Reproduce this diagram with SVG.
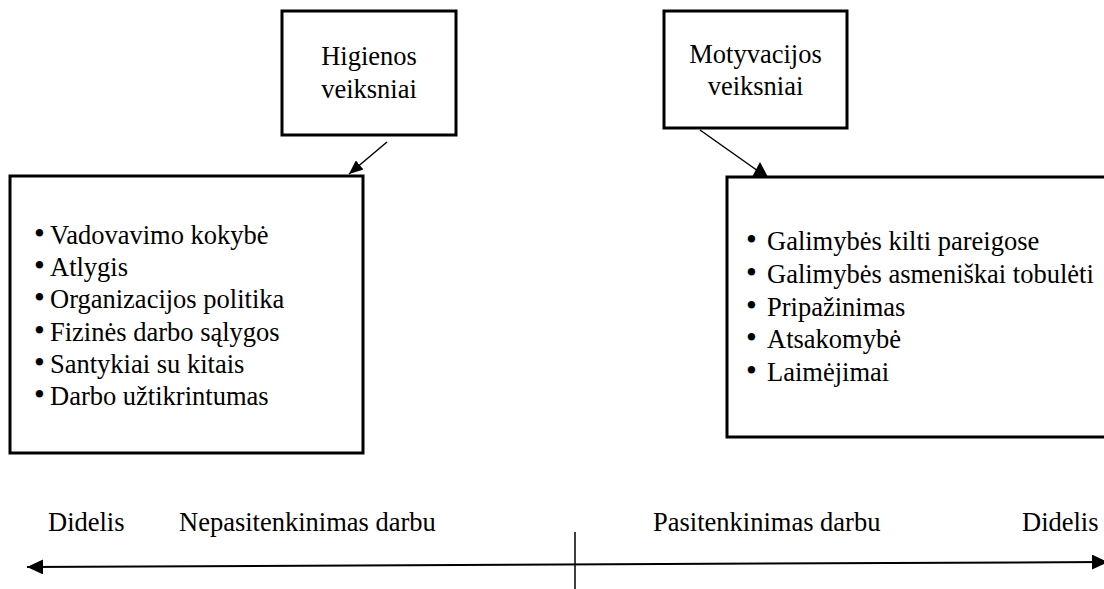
<svg xmlns="http://www.w3.org/2000/svg" width="1104" height="589" viewBox="0 0 1104 589">
<style>
  text { font-family: 'Liberation Serif', 'DejaVu Serif', serif; font-size: 26.5px; fill: #000; }
  .b { font-size: 31px; }
  .box { fill: #fff; stroke: #000; stroke-width: 3; }
  .c { text-anchor: middle; }
  .conn { stroke: #000; stroke-width: 1.5; fill: none; }
  .axis { stroke: #000; stroke-width: 2; fill: none; }
</style>
<defs>
  <marker id="ah" viewBox="0 0 14 12" refX="14" refY="6" markerWidth="14" markerHeight="12" markerUnits="userSpaceOnUse" orient="auto">
    <path d="M0,0 L14,6 L0,12 z" fill="#000"/>
  </marker>
  <marker id="ax" viewBox="0 0 16 15" refX="16" refY="7.5" markerWidth="16" markerHeight="15" markerUnits="userSpaceOnUse" orient="auto-start-reverse">
    <path d="M0,0 L16,7.5 L0,15 z" fill="#000"/>
  </marker>
</defs>

<g id="higienos">
  <rect class="box" x="282" y="11" width="174" height="124"/>
  <text class="c" x="369" y="65">Higienos</text>
  <text class="c" x="369" y="98">veiksniai</text>
</g>

<g id="motyvacijos">
  <rect class="box" x="664" y="11" width="183" height="117"/>
  <text class="c" x="755.5" y="63">Motyvacijos</text>
  <text class="c" x="755.5" y="95">veiksniai</text>
</g>

<g id="higienos-list">
  <rect class="box" x="10" y="176" width="353" height="277"/>
  <text x="34" y="244"><tspan class="b">•</tspan><tspan x="50">Vadovavimo kokybė</tspan></text>
  <text x="34" y="276"><tspan class="b">•</tspan><tspan x="50">Atlygis</tspan></text>
  <text x="34" y="308"><tspan class="b">•</tspan><tspan x="50">Organizacijos politika</tspan></text>
  <text x="34" y="341"><tspan class="b">•</tspan><tspan x="50">Fizinės darbo sąlygos</tspan></text>
  <text x="34" y="373"><tspan class="b">•</tspan><tspan x="50">Santykiai su kitais</tspan></text>
  <text x="34" y="405"><tspan class="b">•</tspan><tspan x="50">Darbo užtikrintumas</tspan></text>
</g>

<g id="motyvacijos-list">
  <rect class="box" x="727" y="177" width="400" height="260"/>
  <text x="746" y="250"><tspan class="b">•</tspan><tspan x="767">Galimybės kilti pareigose</tspan></text>
  <text x="746" y="283"><tspan class="b">•</tspan><tspan x="767">Galimybės asmeniškai tobulėti</tspan></text>
  <text x="746" y="316"><tspan class="b">•</tspan><tspan x="767">Pripažinimas</tspan></text>
  <text x="746" y="348"><tspan class="b">•</tspan><tspan x="767">Atsakomybė</tspan></text>
  <text x="746" y="381"><tspan class="b">•</tspan><tspan x="767">Laimėjimai</tspan></text>
</g>

<g id="connectors">
  <line class="conn" x1="387" y1="142" x2="349" y2="174" marker-end="url(#ah)"/>
  <line class="conn" x1="700" y1="130" x2="758" y2="171"/>
  <polygon points="760,162 768,177 752,177" fill="#000"/>
  <line class="axis" x1="27" y1="567" x2="1108" y2="562" marker-start="url(#ax)" marker-end="url(#ax)"/>
  <line stroke="#000" stroke-width="1.5" x1="575" y1="532" x2="575" y2="589"/>
</g>

<g id="scale-labels">
  <text x="48" y="531">Didelis</text>
  <text x="179" y="531">Nepasitenkinimas darbu</text>
  <text x="653" y="531">Pasitenkinimas darbu</text>
  <text x="1022" y="531">Didelis</text>
</g>
</svg>
